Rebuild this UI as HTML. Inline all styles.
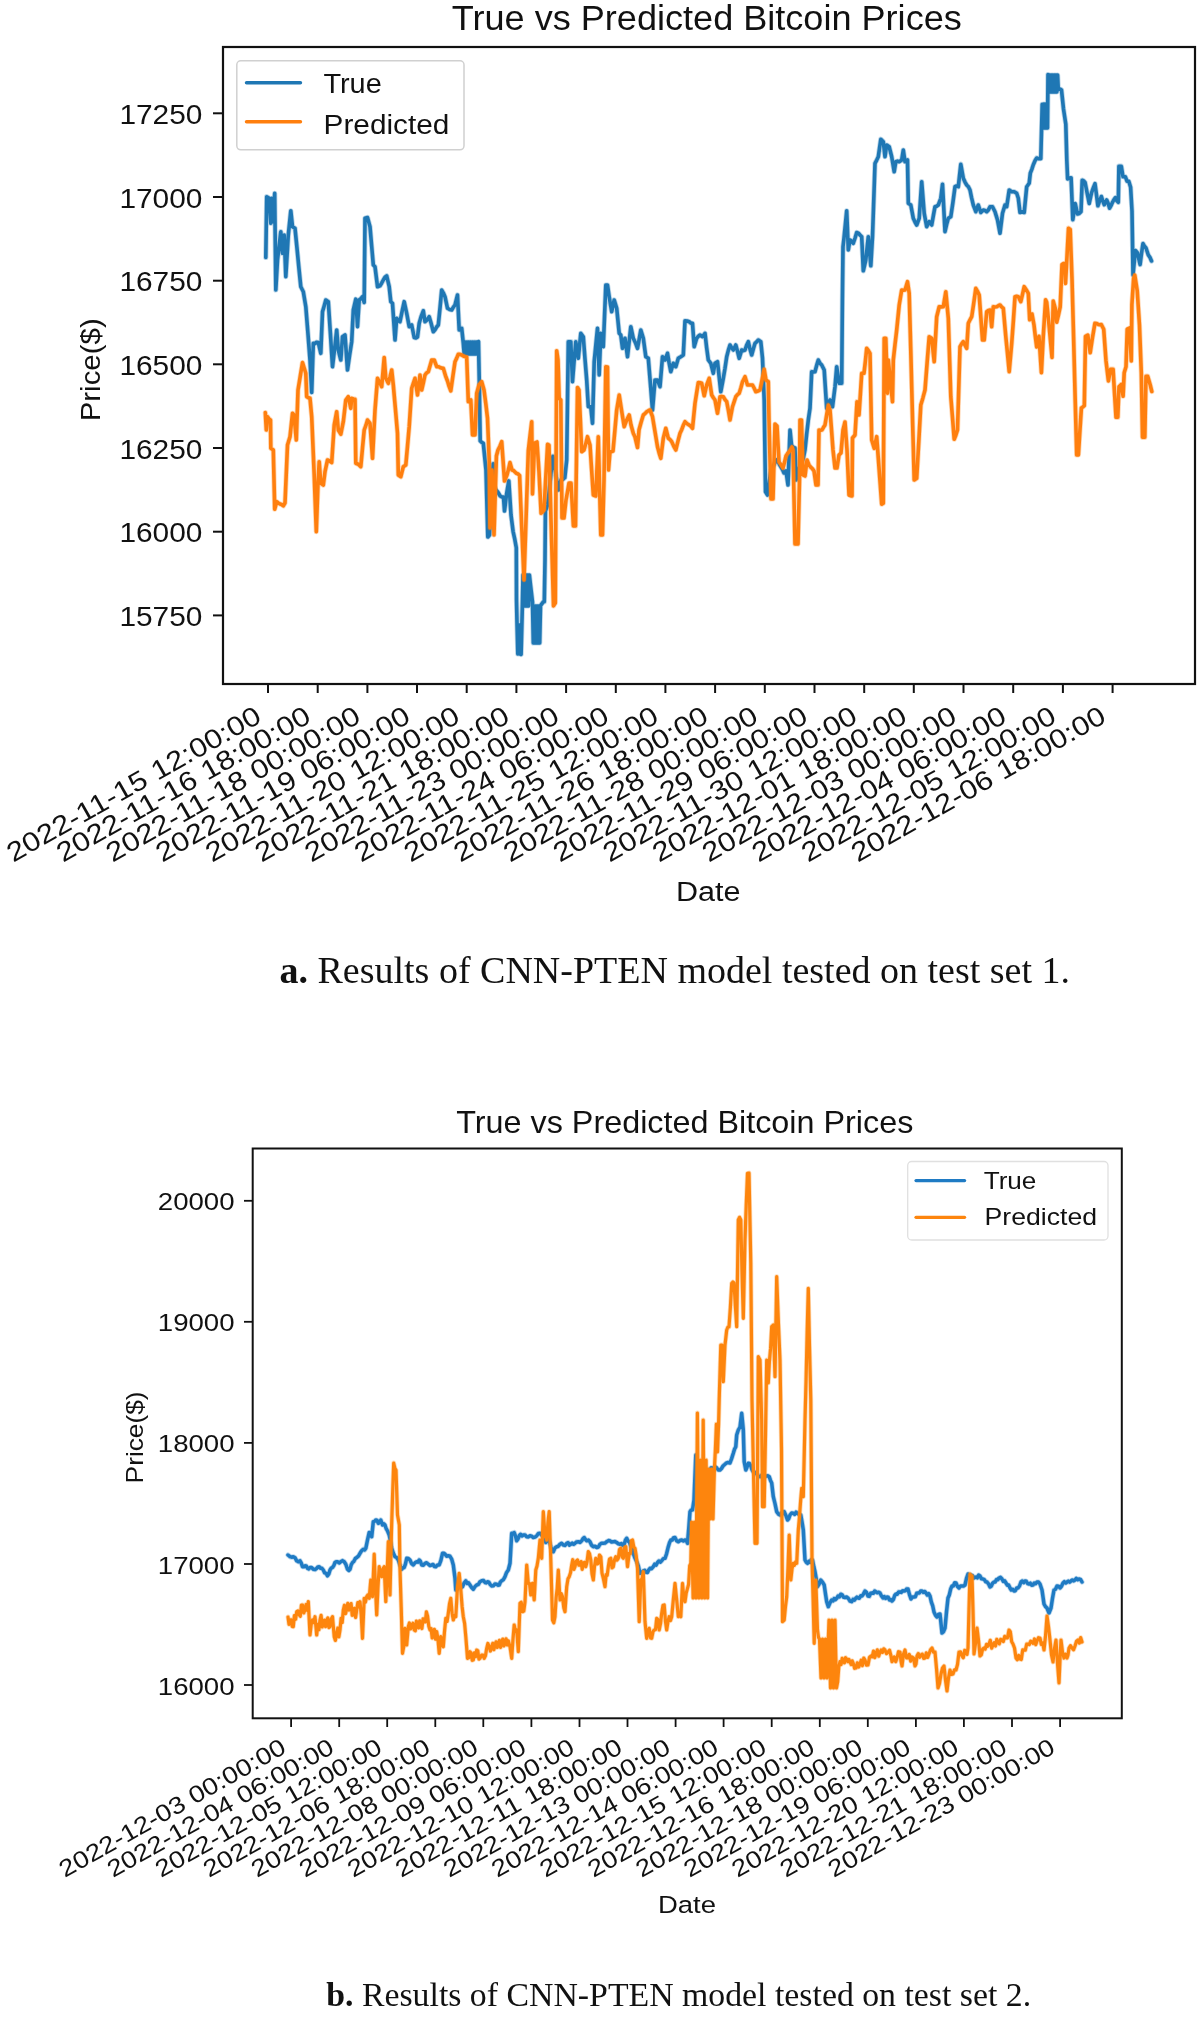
<!DOCTYPE html>
<html><head><meta charset="utf-8"><title>True vs Predicted Bitcoin Prices</title>
<style>
html,body{margin:0;padding:0;background:#fff;}
body{width:1200px;height:2043px;overflow:hidden;}
svg{display:block;will-change:transform;}
text{font-family:"Liberation Sans",sans-serif;fill:#111;}
.cap{font-family:"Liberation Serif",serif;}
</style></head><body>
<svg width="1200" height="2043" viewBox="0 0 1200 2043">
<rect x="0" y="0" width="1200" height="2043" fill="#fff"/>
<text x="706.8" y="30" font-size="35.5" text-anchor="middle" textLength="510" lengthAdjust="spacingAndGlyphs">True vs Predicted Bitcoin Prices</text>
<defs><polyline id="p1b" points="265.8,257.5 266.7,196.7 269.2,198.3 270.8,223.3 271.7,198.3 273.3,221.7 274.7,193.3 275.8,290.0 277.5,260.0 279.1,246.3 280.8,231.7 282.5,253.3 284.2,235.0 285.8,276.7 288.3,235.0 290.8,210.8 292.5,226.7 295.0,228.3 296.9,247.2 298.9,268.0 300.8,286.7 303.3,291.7 305.8,306.7 307.9,332.8 310.0,360.0 311.7,392.5 313.3,343.3 315.0,343.6 316.6,342.2 318.3,342.5 320.8,353.3 322.5,311.7 324.1,306.2 325.8,300.0 328.3,301.7 330.4,333.7 332.5,366.7 334.6,348.9 336.7,330.0 338.3,350.0 340.8,360.0 342.5,336.7 345.0,335.0 347.5,370.0 349.6,355.2 351.7,341.7 353.3,310.0 355.8,299.2 357.5,326.7 359.2,300.0 360.9,298.6 362.5,296.7 364.2,302.5 365.0,218.3 367.5,217.5 370.0,226.7 371.6,245.4 373.3,265.0 375.0,266.7 377.5,286.7 380.0,285.8 381.6,283.2 383.3,280.0 385.0,277.2 386.7,275.8 389.2,286.7 390.8,301.7 392.5,303.3 395.0,340.0 396.7,318.3 398.4,320.6 400.0,321.7 402.1,311.4 404.2,301.7 406.7,313.3 409.2,326.7 411.7,325.0 414.2,337.5 415.9,338.0 417.5,337.0 419.2,323.3 421.2,316.3 423.3,310.8 425.0,321.7 427.1,319.8 429.2,316.7 431.2,323.6 433.3,331.7 435.0,329.8 436.6,327.0 438.3,325.0 440.0,308.0 441.7,290.0 443.4,293.1 445.0,296.7 447.5,308.3 449.6,309.5 451.7,310.0 453.4,307.1 455.0,305.0 457.5,295.0 459.2,330.0 461.7,328.3 463.3,343.3 464.2,354.0 465.1,342.0 466.0,354.0 466.9,342.0 467.8,354.0 468.7,342.0 469.6,354.0 470.5,342.0 471.4,354.0 472.3,342.0 473.2,354.0 474.1,342.0 475.0,354.0 475.9,342.0 476.8,354.0 477.7,342.0 478.5,341.7 479.2,376.7 480.2,441.0 481.8,442.4 483.3,443.3 486.0,470.0 487.8,537.0 489.5,535.0 492.1,483.1 493.2,463.7 494.0,485.0 496.0,490.0 498.1,492.5 500.2,496.0 501.9,497.0 503.5,497.0 504.5,511.0 506.6,493.9 508.8,480.9 511.0,515.0 513.1,531.6 514.7,538.9 516.3,547.7 516.5,600.0 517.0,623.0 517.8,654.0 518.5,625.0 519.2,654.0 519.9,625.0 520.6,654.0 521.1,654.4 522.3,608.0 523.0,575.0 523.8,606.0 524.6,575.0 525.4,606.0 526.2,575.0 527.0,606.0 527.8,575.0 528.6,606.0 529.4,575.0 530.5,585.0 532.5,602.0 533.3,643.0 534.1,606.0 534.9,643.0 535.7,606.0 536.5,643.0 537.3,606.0 538.1,643.0 538.9,606.0 539.7,643.0 540.5,606.0 541.1,604.8 543.5,601.6 544.3,601.6 545.0,560.0 545.4,511.1 547.6,505.0 549.4,489.3 551.1,471.9 552.9,456.2 555.5,472.0 556.9,481.5 558.3,490.0 559.6,484.4 561.0,480.0 562.9,479.3 564.8,477.7 566.7,460.0 568.3,341.7 570.8,341.7 572.5,381.7 574.1,361.3 575.8,341.7 578.3,358.3 580.8,333.3 583.3,336.7 585.0,359.1 586.7,380.0 588.3,406.7 590.8,406.7 592.5,423.3 594.2,361.7 595.9,344.2 597.5,328.3 599.2,375.0 600.8,333.3 603.3,346.7 605.8,285.0 607.5,285.0 609.2,296.7 611.7,311.7 614.2,300.0 616.7,308.3 619.2,333.3 620.8,335.0 622.5,348.3 625.0,338.3 627.5,356.7 629.1,342.4 630.8,326.7 633.3,338.3 635.4,342.7 637.5,348.3 639.1,339.6 640.8,330.0 643.3,338.3 645.8,356.7 648.3,358.3 650.4,383.8 652.5,410.0 655.0,380.0 657.5,380.0 660.0,386.7 662.5,356.7 665.0,360.0 667.5,353.3 669.1,362.9 670.8,371.7 673.3,363.3 675.8,366.7 678.3,358.3 680.8,356.7 683.3,355.0 685.0,320.8 687.1,321.0 689.2,321.7 690.9,323.2 692.5,323.3 694.2,346.7 696.7,338.3 698.4,336.2 700.0,335.0 702.5,336.7 705.0,333.3 706.6,347.4 708.3,360.0 710.8,363.3 713.3,373.3 715.0,363.3 717.5,361.7 719.1,376.2 720.8,391.7 723.3,378.3 725.0,368.3 726.7,356.7 728.4,350.1 730.0,345.0 731.6,347.7 733.3,350.0 735.8,345.0 737.5,351.3 739.2,358.3 741.7,350.0 743.4,350.7 745.0,350.0 746.6,345.3 748.3,341.7 750.0,349.1 751.7,355.0 753.4,348.7 755.0,343.3 756.6,341.9 758.3,340.0 760.8,341.7 762.5,358.3 764.2,400.0 765.5,491.7 767.5,495.0 769.2,481.9 771.0,470.0 772.9,467.3 774.8,462.9 776.7,460.0 778.3,462.0 779.6,464.8 781.0,467.0 782.5,469.6 784.0,473.0 786.0,471.0 788.0,485.0 790.0,430.0 791.5,445.0 793.2,447.3 795.0,448.0 796.0,480.0 798.5,470.0 800.1,465.4 801.7,462.5 803.3,458.3 805.0,450.0 806.6,434.6 808.3,420.0 810.0,408.3 811.7,371.7 813.4,372.0 815.0,371.7 816.6,365.6 818.3,360.0 820.0,363.2 821.7,365.0 824.2,370.0 826.7,408.3 828.4,403.8 830.0,400.0 832.5,406.7 835.0,386.7 836.7,366.7 839.2,383.3 841.7,383.3 842.4,300.0 843.0,246.7 843.8,240.0 845.2,226.0 846.7,210.8 848.3,250.0 850.0,240.0 851.6,241.2 853.3,243.3 855.0,238.2 856.7,232.5 858.4,233.1 860.0,235.0 861.7,236.7 863.3,270.8 865.8,260.0 868.3,236.7 870.8,265.8 872.5,236.7 875.0,163.3 876.6,160.3 878.3,156.7 880.8,139.2 883.3,141.7 885.0,156.7 886.7,145.0 889.2,146.7 891.7,156.7 894.2,171.7 895.8,161.7 897.5,161.1 899.2,161.7 901.7,160.0 903.3,150.0 905.0,161.7 907.5,160.0 908.3,203.3 910.8,205.0 913.3,218.3 915.0,222.0 916.7,225.0 919.2,218.3 921.7,181.7 924.2,213.3 926.7,226.7 929.2,221.7 931.7,225.0 933.4,215.4 935.0,206.7 936.6,206.2 938.3,205.0 940.8,198.3 942.5,184.2 945.0,231.7 946.6,224.6 948.3,218.3 950.8,216.7 952.9,202.5 955.0,186.7 956.6,186.0 958.3,186.7 960.8,164.2 963.3,178.3 965.0,182.1 966.7,185.0 968.4,186.8 970.0,190.0 971.6,197.9 973.3,205.0 975.8,211.7 978.3,205.0 980.8,212.5 983.3,210.0 985.0,210.4 986.7,211.7 988.4,209.9 990.0,206.7 992.5,206.7 995.0,211.7 997.5,220.0 1000.0,233.3 1002.5,213.3 1005.0,205.0 1006.7,206.7 1009.2,190.0 1011.7,191.7 1014.2,191.7 1016.7,193.3 1018.3,198.3 1020.0,212.5 1022.1,211.9 1024.2,212.5 1026.7,186.7 1029.2,183.3 1030.3,173.2 1031.8,169.4 1033.2,165.0 1035.0,160.7 1036.7,158.0 1038.8,158.7 1040.8,158.6 1042.2,104.3 1043.0,128.0 1043.8,104.0 1044.6,128.0 1045.4,104.0 1046.2,128.0 1047.0,104.0 1047.5,128.0 1048.0,74.5 1048.8,92.0 1049.6,75.0 1050.4,92.0 1051.2,75.0 1052.0,92.0 1052.8,75.0 1053.6,92.0 1054.4,75.0 1055.2,92.0 1056.0,75.0 1056.8,92.0 1057.6,75.0 1058.3,89.5 1060.0,89.0 1061.5,90.0 1063.5,109.0 1065.8,124.2 1066.8,160.0 1067.6,179.0 1069.3,178.0 1071.1,177.8 1072.8,219.8 1075.2,203.5 1077.5,214.0 1079.2,213.5 1081.0,211.7 1082.2,180.2 1083.7,180.9 1085.1,182.5 1087.2,193.4 1089.2,203.5 1091.5,193.0 1093.2,188.1 1095.0,183.7 1096.5,195.0 1097.9,205.8 1099.7,200.6 1101.4,196.5 1102.8,201.0 1104.3,204.7 1106.7,200.0 1108.2,203.5 1109.6,208.2 1111.0,205.7 1112.5,202.3 1114.0,199.5 1115.4,197.7 1116.8,200.8 1118.3,202.3 1118.9,166.2 1121.3,166.2 1123.0,176.7 1125.3,176.7 1127.1,181.3 1128.8,181.3 1130.6,187.2 1132.0,211.0 1133.0,275.0 1135.4,250.5 1137.5,253.0 1140.1,264.6 1141.5,253.5 1143.0,243.5 1144.5,246.3 1146.0,248.0 1148.3,255.0 1149.9,257.3 1151.5,261.0"/></defs><g fill="none" stroke="#1f77b4" stroke-linejoin="round" stroke-linecap="round"><use href="#p1b" stroke-opacity="0.3" stroke-width="5.20"/><use href="#p1b" stroke-width="3.6"/></g>
<defs><polyline id="p1o" points="265.3,412.5 266.3,430.0 267.5,416.7 269.0,419.0 270.5,420.0 270.8,448.3 273.3,450.0 274.7,509.2 276.7,501.7 278.4,503.2 280.0,504.0 281.6,504.5 283.3,505.8 285.0,503.0 287.5,445.0 290.0,436.7 292.5,413.3 294.0,415.0 296.3,440.0 298.0,390.0 300.2,376.6 302.5,362.5 304.1,367.7 305.8,373.3 306.7,396.7 308.4,397.7 310.0,398.3 311.7,416.7 314.2,475.0 316.3,531.7 318.0,483.3 319.2,461.7 320.8,483.3 323.3,485.0 325.0,471.7 327.5,460.0 329.6,461.0 331.7,462.5 334.2,425.0 336.7,411.7 338.3,430.0 340.8,434.2 343.3,421.7 345.8,400.0 348.3,396.7 350.8,408.3 351.7,398.3 353.4,399.0 355.0,399.2 355.8,463.3 358.3,464.2 360.8,466.7 362.5,447.9 364.2,430.0 365.9,425.4 367.5,420.0 370.0,423.3 372.5,458.3 375.0,410.0 377.5,378.3 379.6,382.1 381.7,386.7 384.2,357.5 385.8,378.3 388.3,383.3 390.0,377.0 391.7,370.0 393.3,385.0 395.4,408.8 397.5,433.3 398.3,475.0 400.8,476.7 403.3,466.7 405.8,465.0 407.5,446.1 409.2,426.7 411.7,388.3 413.4,383.0 415.0,378.3 417.5,395.0 420.0,375.0 421.7,390.0 423.4,382.7 425.0,375.0 426.6,372.9 428.3,371.7 430.0,366.0 431.7,360.0 434.2,360.0 436.7,366.7 438.4,366.7 440.0,367.5 441.6,368.1 443.3,368.3 445.8,376.7 447.5,381.0 449.1,386.4 450.8,390.8 452.9,376.0 455.0,361.7 456.6,358.4 458.3,354.2 460.0,354.4 461.7,355.0 463.4,356.0 465.0,356.7 466.7,357.0 468.3,401.7 470.8,400.0 472.5,435.0 475.0,435.0 476.7,393.3 479.0,385.0 481.7,381.7 484.0,390.0 485.8,403.7 487.5,418.3 489.2,460.0 490.0,528.0 492.0,470.0 494.0,535.0 496.4,456.0 498.0,450.0 499.9,446.2 501.7,441.7 503.1,461.2 504.5,481.0 507.0,475.0 508.5,469.3 510.0,462.6 512.0,470.0 513.5,470.5 515.0,472.0 516.5,473.4 518.1,474.0 519.6,475.5 520.6,500.3 522.3,540.3 524.0,580.0 526.0,520.0 528.3,450.8 530.0,436.0 531.7,421.7 532.5,493.9 534.6,443.2 537.0,442.0 539.0,472.0 541.1,513.3 542.5,512.0 544.0,510.0 545.8,476.9 547.6,444.3 549.0,445.0 551.0,520.0 553.5,605.9 555.3,603.0 556.7,350.8 558.0,360.0 559.2,398.3 560.8,400.0 562.0,518.0 564.0,518.0 566.0,500.0 567.5,491.9 569.0,483.0 571.0,483.0 573.4,526.0 575.5,526.0 577.5,387.5 579.0,390.0 580.4,420.7 581.7,451.7 584.0,450.0 585.8,443.6 587.5,436.7 590.0,445.0 591.6,469.6 593.3,495.0 595.8,496.0 598.3,436.7 600.8,535.0 602.5,535.0 604.0,480.0 605.8,366.7 607.5,367.0 608.5,470.0 610.0,451.7 611.5,451.6 613.0,451.0 614.9,430.2 616.7,410.0 619.2,395.0 621.5,410.0 622.9,418.7 624.2,426.7 626.7,420.0 629.2,415.0 631.0,425.0 633.3,433.3 635.0,437.0 637.5,447.5 639.0,430.0 641.1,422.2 643.3,415.0 645.0,413.6 646.7,411.7 648.4,410.7 650.0,410.0 652.5,416.7 655.0,431.7 657.5,446.7 659.1,452.9 660.8,458.3 663.3,438.3 665.8,428.3 668.3,438.3 670.0,439.5 671.7,441.7 673.8,446.3 675.8,450.0 677.9,441.3 680.0,433.3 681.7,429.7 683.3,425.3 685.0,421.7 687.1,423.7 689.2,425.0 690.9,426.3 692.5,428.3 695.0,403.3 696.6,393.1 698.3,382.5 700.0,382.7 701.7,383.3 704.2,395.8 706.7,385.0 709.2,378.3 711.7,395.0 713.4,397.8 715.0,400.0 717.5,413.3 720.0,396.7 721.6,396.4 723.3,396.7 725.0,399.6 726.7,401.7 728.4,410.5 730.0,420.0 732.5,406.7 734.1,401.9 735.8,396.7 737.5,394.6 739.2,393.3 740.9,387.8 742.5,381.7 745.0,376.7 747.5,385.0 750.0,385.0 752.5,385.0 754.1,388.0 755.8,391.7 757.9,391.1 760.0,390.0 761.7,381.7 764.2,369.2 766.0,380.0 768.3,381.7 769.0,420.0 771.0,499.0 773.0,499.0 775.0,424.0 777.0,426.0 779.0,462.0 781.0,464.7 783.0,468.0 784.5,462.3 786.0,456.0 787.5,453.6 789.0,452.0 790.5,449.7 792.0,447.0 793.0,450.0 795.0,544.0 796.5,543.7 798.0,544.0 799.5,480.0 800.0,420.0 801.5,420.0 803.0,475.0 805.0,476.0 807.0,460.0 809.0,465.0 810.7,467.2 812.3,468.6 814.0,471.0 816.0,485.0 818.0,485.0 819.0,430.0 820.5,430.2 822.0,430.0 823.5,427.3 825.0,425.0 826.6,415.3 828.3,405.0 830.0,410.0 831.5,429.6 833.0,450.0 835.0,468.0 837.0,468.0 839.0,455.0 841.0,453.0 843.0,430.0 845.0,422.0 847.0,450.0 849.0,495.0 850.5,495.7 852.0,496.0 852.5,438.0 855.0,435.0 857.0,401.7 859.0,415.0 860.4,393.8 861.7,373.3 864.0,373.3 865.4,361.0 866.7,348.3 868.4,350.6 870.0,353.3 871.7,440.0 874.2,448.3 876.7,436.7 878.4,459.5 880.0,481.2 881.7,504.2 883.3,503.3 884.2,338.3 885.8,338.3 887.5,393.3 888.3,360.0 890.4,381.2 892.5,401.7 893.3,360.0 895.0,344.5 896.7,330.0 899.2,305.0 901.7,290.0 903.4,290.2 905.0,290.0 907.5,281.7 909.2,293.3 910.9,355.1 912.5,418.0 914.2,480.0 916.7,478.3 918.8,441.4 920.8,405.0 922.9,397.9 925.0,390.0 927.1,362.9 929.2,336.7 931.7,338.3 934.2,361.7 936.7,316.7 939.2,306.7 941.2,306.9 943.3,306.7 945.8,291.7 948.3,318.3 950.8,396.7 952.5,417.7 954.2,439.2 955.9,435.0 957.5,430.0 960.0,346.7 961.6,343.9 963.3,341.7 965.0,345.2 966.7,348.3 968.3,323.3 970.0,319.8 971.7,316.7 973.8,302.7 975.8,288.3 977.5,291.3 979.2,295.0 980.9,318.0 982.5,340.0 984.2,340.0 986.7,311.7 988.4,310.4 990.0,310.0 991.7,326.7 993.3,306.7 995.0,307.0 996.7,306.7 998.4,305.7 1000.0,305.0 1001.6,306.9 1003.3,308.3 1005.8,336.7 1007.5,353.8 1009.2,371.7 1011.7,343.3 1013.4,320.4 1015.0,296.7 1016.6,296.3 1018.3,296.7 1020.8,301.7 1022.5,294.4 1024.2,286.7 1026.2,289.7 1028.3,293.3 1029.7,319.8 1032.0,314.0 1034.0,325.0 1035.3,336.3 1036.7,346.9 1039.0,336.3 1041.4,372.7 1043.2,337.4 1045.6,299.9 1046.7,302.2 1049.1,325.7 1050.5,341.2 1052.0,357.4 1053.2,301.0 1055.5,309.3 1056.7,322.2 1058.5,314.8 1060.2,306.9 1062.0,264.6 1063.5,263.6 1064.9,263.5 1065.5,283.4 1067.0,256.3 1068.5,228.2 1070.2,229.4 1072.0,278.7 1073.6,337.2 1075.1,396.4 1076.7,454.9 1078.4,454.9 1079.9,430.9 1081.4,407.9 1082.8,407.0 1084.3,405.6 1085.5,336.3 1087.8,335.1 1090.2,352.7 1092.5,337.4 1094.9,323.4 1096.7,323.5 1098.4,324.5 1099.8,324.8 1101.3,324.5 1103.7,329.2 1106.0,360.9 1108.4,380.9 1110.7,369.2 1113.1,369.2 1114.5,392.9 1116.0,417.3 1117.8,417.3 1119.0,386.8 1121.3,384.4 1123.1,396.2 1124.2,372.7 1126.0,366.8 1127.2,329.2 1129.5,328.0 1131.3,361.0 1131.9,304.6 1133.6,278.7 1134.8,275.2 1137.2,290.5 1139.5,325.7 1141.3,372.7 1142.5,437.3 1144.8,437.3 1146.0,376.2 1147.7,376.2 1150.1,384.4 1151.8,391.5"/></defs><g fill="none" stroke="#ff7f0e" stroke-linejoin="round" stroke-linecap="round"><use href="#p1o" stroke-opacity="0.3" stroke-width="5.20"/><use href="#p1o" stroke-width="3.6"/></g>
<rect x="223" y="47" width="972" height="637" fill="none" stroke="#111" stroke-width="2.2"/>
<line x1="213" y1="113.3" x2="223" y2="113.3" stroke="#111" stroke-width="2"/>
<text x="202.4" y="124.0" font-size="27" text-anchor="end" textLength="83" lengthAdjust="spacingAndGlyphs">17250</text>
<line x1="213" y1="197.0" x2="223" y2="197.0" stroke="#111" stroke-width="2"/>
<text x="202.4" y="207.7" font-size="27" text-anchor="end" textLength="83" lengthAdjust="spacingAndGlyphs">17000</text>
<line x1="213" y1="280.7" x2="223" y2="280.7" stroke="#111" stroke-width="2"/>
<text x="202.4" y="291.4" font-size="27" text-anchor="end" textLength="83" lengthAdjust="spacingAndGlyphs">16750</text>
<line x1="213" y1="364.3" x2="223" y2="364.3" stroke="#111" stroke-width="2"/>
<text x="202.4" y="375.0" font-size="27" text-anchor="end" textLength="83" lengthAdjust="spacingAndGlyphs">16500</text>
<line x1="213" y1="448.0" x2="223" y2="448.0" stroke="#111" stroke-width="2"/>
<text x="202.4" y="458.7" font-size="27" text-anchor="end" textLength="83" lengthAdjust="spacingAndGlyphs">16250</text>
<line x1="213" y1="531.7" x2="223" y2="531.7" stroke="#111" stroke-width="2"/>
<text x="202.4" y="542.4" font-size="27" text-anchor="end" textLength="83" lengthAdjust="spacingAndGlyphs">16000</text>
<line x1="213" y1="615.4" x2="223" y2="615.4" stroke="#111" stroke-width="2"/>
<text x="202.4" y="626.1" font-size="27" text-anchor="end" textLength="83" lengthAdjust="spacingAndGlyphs">15750</text>
<text transform="translate(100,369.8) rotate(-90)" font-size="28" text-anchor="middle" textLength="103" lengthAdjust="spacingAndGlyphs">Price($)</text>
<line x1="268.0" y1="684" x2="268.0" y2="693" stroke="#111" stroke-width="2"/>
<text transform="translate(263.0,721.3) rotate(-29.5)" font-size="27" text-anchor="end" textLength="287" lengthAdjust="spacingAndGlyphs">2022-11-15 12:00:00</text>
<line x1="317.7" y1="684" x2="317.7" y2="693" stroke="#111" stroke-width="2"/>
<text transform="translate(312.7,721.3) rotate(-29.5)" font-size="27" text-anchor="end" textLength="287" lengthAdjust="spacingAndGlyphs">2022-11-16 18:00:00</text>
<line x1="367.4" y1="684" x2="367.4" y2="693" stroke="#111" stroke-width="2"/>
<text transform="translate(362.4,721.3) rotate(-29.5)" font-size="27" text-anchor="end" textLength="287" lengthAdjust="spacingAndGlyphs">2022-11-18 00:00:00</text>
<line x1="417.0" y1="684" x2="417.0" y2="693" stroke="#111" stroke-width="2"/>
<text transform="translate(412.0,721.3) rotate(-29.5)" font-size="27" text-anchor="end" textLength="287" lengthAdjust="spacingAndGlyphs">2022-11-19 06:00:00</text>
<line x1="466.7" y1="684" x2="466.7" y2="693" stroke="#111" stroke-width="2"/>
<text transform="translate(461.7,721.3) rotate(-29.5)" font-size="27" text-anchor="end" textLength="287" lengthAdjust="spacingAndGlyphs">2022-11-20 12:00:00</text>
<line x1="516.4" y1="684" x2="516.4" y2="693" stroke="#111" stroke-width="2"/>
<text transform="translate(511.4,721.3) rotate(-29.5)" font-size="27" text-anchor="end" textLength="287" lengthAdjust="spacingAndGlyphs">2022-11-21 18:00:00</text>
<line x1="566.1" y1="684" x2="566.1" y2="693" stroke="#111" stroke-width="2"/>
<text transform="translate(561.1,721.3) rotate(-29.5)" font-size="27" text-anchor="end" textLength="287" lengthAdjust="spacingAndGlyphs">2022-11-23 00:00:00</text>
<line x1="615.8" y1="684" x2="615.8" y2="693" stroke="#111" stroke-width="2"/>
<text transform="translate(610.8,721.3) rotate(-29.5)" font-size="27" text-anchor="end" textLength="287" lengthAdjust="spacingAndGlyphs">2022-11-24 06:00:00</text>
<line x1="665.4" y1="684" x2="665.4" y2="693" stroke="#111" stroke-width="2"/>
<text transform="translate(660.4,721.3) rotate(-29.5)" font-size="27" text-anchor="end" textLength="287" lengthAdjust="spacingAndGlyphs">2022-11-25 12:00:00</text>
<line x1="715.1" y1="684" x2="715.1" y2="693" stroke="#111" stroke-width="2"/>
<text transform="translate(710.1,721.3) rotate(-29.5)" font-size="27" text-anchor="end" textLength="287" lengthAdjust="spacingAndGlyphs">2022-11-26 18:00:00</text>
<line x1="764.8" y1="684" x2="764.8" y2="693" stroke="#111" stroke-width="2"/>
<text transform="translate(759.8,721.3) rotate(-29.5)" font-size="27" text-anchor="end" textLength="287" lengthAdjust="spacingAndGlyphs">2022-11-28 00:00:00</text>
<line x1="814.5" y1="684" x2="814.5" y2="693" stroke="#111" stroke-width="2"/>
<text transform="translate(809.5,721.3) rotate(-29.5)" font-size="27" text-anchor="end" textLength="287" lengthAdjust="spacingAndGlyphs">2022-11-29 06:00:00</text>
<line x1="864.2" y1="684" x2="864.2" y2="693" stroke="#111" stroke-width="2"/>
<text transform="translate(859.2,721.3) rotate(-29.5)" font-size="27" text-anchor="end" textLength="287" lengthAdjust="spacingAndGlyphs">2022-11-30 12:00:00</text>
<line x1="913.8" y1="684" x2="913.8" y2="693" stroke="#111" stroke-width="2"/>
<text transform="translate(908.8,721.3) rotate(-29.5)" font-size="27" text-anchor="end" textLength="287" lengthAdjust="spacingAndGlyphs">2022-12-01 18:00:00</text>
<line x1="963.5" y1="684" x2="963.5" y2="693" stroke="#111" stroke-width="2"/>
<text transform="translate(958.5,721.3) rotate(-29.5)" font-size="27" text-anchor="end" textLength="287" lengthAdjust="spacingAndGlyphs">2022-12-03 00:00:00</text>
<line x1="1013.2" y1="684" x2="1013.2" y2="693" stroke="#111" stroke-width="2"/>
<text transform="translate(1008.2,721.3) rotate(-29.5)" font-size="27" text-anchor="end" textLength="287" lengthAdjust="spacingAndGlyphs">2022-12-04 06:00:00</text>
<line x1="1062.9" y1="684" x2="1062.9" y2="693" stroke="#111" stroke-width="2"/>
<text transform="translate(1057.9,721.3) rotate(-29.5)" font-size="27" text-anchor="end" textLength="287" lengthAdjust="spacingAndGlyphs">2022-12-05 12:00:00</text>
<line x1="1112.6" y1="684" x2="1112.6" y2="693" stroke="#111" stroke-width="2"/>
<text transform="translate(1107.6,721.3) rotate(-29.5)" font-size="27" text-anchor="end" textLength="287" lengthAdjust="spacingAndGlyphs">2022-12-06 18:00:00</text>
<text x="708.3" y="901.2" font-size="27" text-anchor="middle" textLength="64.5" lengthAdjust="spacingAndGlyphs">Date</text>
<rect x="236.8" y="60.8" width="227.2" height="89" rx="4" ry="4" fill="#fff" fill-opacity="0.8" stroke="#d0d0d0" stroke-width="1.5"/>
<line x1="246.5" y1="82.7" x2="300.5" y2="82.7" stroke="#1f77b4" stroke-width="3.4" stroke-linecap="round"/>
<line x1="246.5" y1="121.8" x2="300.5" y2="121.8" stroke="#ff7f0e" stroke-width="3.4" stroke-linecap="round"/>
<text x="323.4" y="92.5" font-size="27.5" textLength="58.3" lengthAdjust="spacingAndGlyphs">True</text>
<text x="323.6" y="133.5" font-size="27.5" textLength="125.8" lengthAdjust="spacingAndGlyphs">Predicted</text>
<text class="cap" x="279.5" y="983" font-size="37.7" textLength="790.5" lengthAdjust="spacingAndGlyphs"><tspan font-weight="bold">a.</tspan> Results of CNN-PTEN model tested on test set 1.</text>
<text x="684.8" y="1133.2" font-size="31.5" text-anchor="middle" textLength="457" lengthAdjust="spacingAndGlyphs">True vs Predicted Bitcoin Prices</text>
<defs><polyline id="p2b" points="288.0,1555.0 290.0,1556.7 291.6,1557.2 293.3,1556.7 295.0,1557.7 296.7,1560.8 298.4,1561.8 300.0,1560.8 301.2,1562.9 302.5,1566.7 303.8,1566.8 305.0,1565.8 306.2,1565.9 307.5,1568.3 308.8,1569.0 310.0,1567.5 311.6,1567.5 313.3,1569.2 315.0,1569.6 316.7,1568.3 317.9,1566.9 319.2,1566.7 320.6,1568.2 321.9,1568.2 323.3,1570.0 324.7,1572.9 326.1,1573.4 327.5,1575.8 328.8,1574.0 330.0,1570.0 331.2,1568.1 332.5,1567.5 333.8,1565.6 335.0,1562.5 336.2,1561.7 337.5,1561.7 339.1,1563.0 340.8,1561.7 342.5,1560.6 344.2,1561.7 345.8,1564.2 347.5,1569.2 348.8,1570.4 350.0,1569.2 351.2,1564.9 352.5,1562.5 353.9,1561.3 355.3,1558.5 356.7,1557.5 358.4,1556.2 360.0,1553.3 361.6,1550.8 363.3,1549.2 364.6,1550.0 365.8,1548.3 367.5,1540.0 369.2,1532.5 370.4,1533.9 371.7,1536.7 373.3,1521.7 374.6,1521.4 375.8,1520.0 377.1,1520.5 378.3,1523.3 379.6,1522.2 380.8,1520.0 382.5,1525.0 383.8,1523.8 385.0,1525.0 386.2,1528.7 387.5,1530.8 389.2,1535.0 390.4,1540.8 391.7,1548.3 393.4,1553.2 395.0,1556.7 396.6,1557.5 398.3,1560.0 400.0,1565.2 401.7,1569.2 402.9,1567.9 404.2,1567.5 405.4,1564.1 406.7,1558.3 408.4,1558.5 410.0,1560.0 411.6,1563.6 413.3,1565.0 415.0,1562.8 416.7,1561.7 417.9,1562.1 419.2,1560.0 420.4,1561.3 421.7,1565.0 423.4,1565.2 425.0,1563.3 426.6,1562.7 428.3,1564.2 430.0,1565.5 431.7,1565.0 433.1,1564.5 434.4,1566.6 435.8,1566.7 437.5,1565.0 439.2,1565.0 440.9,1560.3 442.5,1553.3 443.8,1553.2 445.0,1554.2 446.6,1556.2 448.3,1555.8 450.0,1556.3 451.7,1559.2 453.3,1565.0 455.0,1578.3 455.8,1590.0 457.1,1589.1 458.3,1586.7 459.7,1586.0 461.1,1587.5 462.5,1586.7 464.1,1583.0 465.8,1580.8 467.2,1583.5 468.6,1582.9 470.0,1585.0 471.6,1587.5 473.3,1589.2 475.0,1586.6 476.7,1585.0 478.4,1584.4 480.0,1581.7 481.7,1580.8 483.4,1580.4 485.0,1582.5 486.2,1582.9 487.5,1581.7 488.8,1582.1 490.0,1584.2 491.6,1585.9 493.3,1585.8 495.0,1583.9 496.7,1584.2 497.9,1585.2 499.2,1585.0 500.4,1582.0 501.7,1580.8 503.4,1579.6 505.0,1576.7 506.6,1572.4 508.3,1570.0 510.0,1563.3 511.7,1533.3 513.0,1533.5 514.2,1532.5 515.5,1536.1 516.7,1540.8 518.0,1539.0 519.2,1535.8 520.6,1534.3 521.9,1536.0 523.3,1535.0 525.0,1534.9 526.7,1536.7 528.4,1536.9 530.0,1535.8 531.6,1536.2 533.3,1537.5 535.0,1537.1 536.7,1535.8 538.4,1533.4 540.0,1533.3 541.6,1535.2 543.3,1535.0 544.5,1538.0 545.8,1542.5 547.0,1541.4 548.3,1538.3 549.5,1541.5 550.8,1546.7 552.0,1550.4 553.3,1551.7 555.0,1547.9 556.7,1546.7 558.4,1546.2 560.0,1544.2 561.6,1543.3 563.3,1545.0 565.0,1545.4 566.7,1543.3 568.1,1542.7 569.4,1545.1 570.8,1544.2 572.2,1543.1 573.6,1544.3 575.0,1543.3 576.6,1541.9 578.3,1541.7 580.0,1542.4 581.7,1540.8 583.0,1538.6 584.2,1537.5 585.5,1539.6 586.7,1540.8 588.4,1540.1 590.0,1541.7 591.6,1545.3 593.3,1546.7 595.0,1546.3 596.7,1547.5 598.4,1547.0 600.0,1544.2 601.6,1543.3 603.3,1543.3 605.0,1543.1 606.7,1541.7 608.4,1540.6 610.0,1540.8 611.6,1542.0 613.3,1541.7 615.0,1541.6 616.7,1542.5 618.4,1543.8 620.0,1544.2 621.4,1543.5 622.8,1545.4 624.2,1544.2 625.5,1540.0 626.7,1538.3 628.0,1541.1 629.2,1541.7 631.0,1546.7 632.1,1549.2 633.3,1553.3 635.0,1558.1 636.7,1561.7 638.4,1566.2 640.0,1573.3 641.6,1572.9 643.3,1570.8 644.7,1570.3 646.1,1572.3 647.5,1572.5 648.8,1569.8 650.0,1568.3 651.6,1568.7 653.3,1566.7 654.7,1564.2 656.1,1565.1 657.5,1562.5 658.9,1561.0 660.3,1562.1 661.7,1560.8 663.4,1558.6 665.0,1558.3 666.6,1553.7 668.3,1546.7 669.5,1542.7 670.8,1540.0 672.2,1540.0 673.6,1537.7 675.0,1537.5 676.6,1540.7 678.3,1541.7 680.0,1540.5 681.7,1540.0 683.4,1541.0 685.0,1540.0 686.2,1540.4 687.5,1543.3 688.8,1527.9 690.0,1511.7 691.2,1509.9 692.5,1510.0 694.0,1500.0 695.8,1455.0 697.5,1490.0 698.8,1487.5 700.0,1483.0 701.2,1479.3 702.5,1478.0 703.8,1477.4 705.0,1475.0 706.2,1472.9 707.5,1472.0 708.8,1471.8 710.0,1470.0 711.2,1467.7 712.5,1468.0 713.8,1468.6 715.0,1466.7 716.6,1467.8 718.3,1470.0 720.0,1470.0 721.5,1468.5 723.0,1466.0 725.0,1464.2 726.5,1462.9 728.0,1462.5 730.0,1463.0 731.6,1458.6 733.3,1453.3 734.5,1449.2 735.8,1446.7 736.7,1435.0 738.3,1430.0 740.0,1427.0 741.7,1413.3 743.3,1430.0 744.2,1461.7 745.8,1470.0 747.0,1467.2 748.3,1463.3 749.5,1463.5 750.8,1466.0 752.0,1469.8 753.3,1471.7 755.0,1472.3 756.7,1474.0 758.4,1476.2 760.0,1476.7 761.6,1475.2 763.3,1475.0 765.0,1476.3 766.7,1476.0 768.0,1475.8 769.2,1476.7 770.5,1480.4 771.7,1483.0 773.3,1496.7 775.0,1503.6 776.7,1511.7 778.4,1514.1 780.0,1515.0 781.4,1512.9 782.8,1513.7 784.2,1511.7 785.9,1515.4 787.5,1520.0 788.8,1518.5 790.0,1515.0 791.6,1513.0 793.3,1513.3 794.7,1514.4 796.1,1512.2 797.5,1513.3 799.1,1514.5 800.8,1515.0 802.0,1521.7 803.3,1530.0 805.0,1560.0 806.2,1562.1 807.5,1563.3 808.8,1561.4 810.0,1562.2 811.2,1559.8 812.5,1560.0 813.8,1566.5 815.0,1571.7 816.2,1578.2 817.5,1586.7 819.1,1584.0 820.8,1580.0 822.5,1582.1 824.2,1585.0 825.5,1594.1 826.7,1601.7 828.3,1606.7 830.0,1602.7 831.7,1600.0 833.0,1600.8 834.2,1598.5 835.5,1599.6 836.7,1598.3 838.1,1596.0 839.4,1596.8 840.8,1594.2 842.2,1594.8 843.6,1597.3 845.0,1597.5 846.6,1597.0 848.3,1598.3 850.0,1601.1 851.7,1601.7 853.1,1599.3 854.4,1600.1 855.8,1598.3 856.9,1597.1 858.0,1598.0 859.3,1598.2 860.7,1595.8 862.0,1596.0 863.5,1593.9 865.0,1591.0 866.5,1592.4 868.0,1596.0 869.3,1596.3 870.7,1593.3 872.0,1593.0 873.3,1593.3 874.7,1591.0 876.0,1592.0 877.3,1592.8 878.7,1592.2 880.0,1593.0 881.5,1596.0 883.0,1598.0 884.3,1596.5 885.7,1598.4 887.0,1597.0 888.2,1597.2 889.5,1600.0 890.8,1599.6 892.0,1601.0 893.3,1599.6 894.7,1595.5 896.0,1594.0 897.3,1594.2 898.7,1591.9 900.0,1592.0 901.3,1592.4 902.7,1590.7 904.0,1591.0 905.3,1590.8 906.7,1588.9 908.0,1589.0 909.5,1594.6 911.0,1599.0 912.5,1597.0 914.0,1597.0 915.3,1596.8 916.7,1593.3 918.0,1593.0 919.3,1593.1 920.7,1591.1 922.0,1591.0 923.3,1592.4 924.7,1591.5 926.0,1593.0 927.3,1595.0 928.7,1593.7 930.0,1596.0 931.3,1601.8 932.7,1605.8 934.0,1612.0 935.5,1615.3 937.0,1617.0 938.5,1614.5 940.0,1614.0 942.0,1633.0 943.5,1631.7 945.0,1628.0 946.5,1611.9 948.0,1598.0 949.3,1595.0 950.7,1588.9 952.0,1586.0 953.3,1586.0 954.7,1582.8 956.0,1583.0 957.5,1586.5 959.0,1588.0 960.5,1586.0 962.0,1586.0 963.5,1586.1 965.0,1585.0 966.5,1578.3 968.0,1574.0 969.5,1575.2 971.0,1575.0 972.5,1575.6 974.0,1578.0 976.0,1577.0 977.3,1577.8 978.7,1575.1 980.0,1576.0 981.5,1578.8 983.0,1579.0 984.3,1579.6 985.7,1581.7 987.0,1582.0 988.5,1583.8 990.0,1587.0 991.3,1586.1 992.7,1583.1 994.0,1582.0 995.2,1581.9 996.5,1579.5 997.8,1579.7 999.0,1578.0 1000.5,1577.3 1002.0,1579.0 1003.3,1581.4 1004.7,1580.9 1006.0,1583.0 1007.3,1585.2 1008.7,1585.1 1010.0,1588.0 1011.3,1590.0 1012.7,1589.4 1014.0,1591.0 1015.3,1590.7 1016.7,1588.0 1018.0,1588.0 1019.5,1586.0 1021.0,1582.0 1022.3,1581.0 1023.7,1582.6 1025.0,1581.0 1026.3,1581.3 1027.7,1583.6 1029.0,1584.0 1030.3,1583.2 1031.7,1585.2 1033.0,1585.0 1034.3,1583.0 1035.7,1583.6 1037.0,1582.0 1038.5,1582.1 1040.0,1584.0 1042.0,1590.0 1044.0,1604.0 1045.5,1606.6 1047.0,1608.0 1049.0,1613.0 1051.0,1608.0 1052.5,1598.3 1054.0,1590.0 1055.5,1589.2 1057.0,1586.0 1058.5,1586.2 1060.0,1588.0 1061.5,1586.3 1063.0,1583.0 1064.3,1581.7 1065.7,1583.0 1067.0,1582.0 1068.3,1581.1 1069.7,1582.1 1071.0,1581.0 1072.3,1580.0 1073.7,1580.9 1075.0,1580.0 1076.3,1578.4 1077.7,1579.8 1079.0,1579.0 1080.5,1579.4 1082.0,1582.0"/></defs><g fill="none" stroke="#1f7bc4" stroke-linejoin="round" stroke-linecap="round"><use href="#p2b" stroke-opacity="0.3" stroke-width="5.10"/><use href="#p2b" stroke-width="3.5"/></g>
<defs><polyline id="p2o" points="288.0,1617.0 289.0,1624.3 290.0,1620.0 291.1,1619.8 292.2,1626.4 293.3,1626.7 294.4,1615.7 295.6,1619.3 296.7,1611.7 297.9,1611.0 299.2,1615.0 300.3,1616.2 301.4,1605.1 302.5,1605.0 303.8,1613.0 305.0,1610.0 306.1,1604.5 307.2,1610.3 308.3,1601.7 310.0,1635.0 311.2,1624.4 312.5,1620.0 313.8,1622.7 315.0,1616.7 316.7,1635.0 317.8,1624.3 318.9,1629.7 320.0,1620.0 321.1,1615.4 322.2,1627.0 323.3,1623.3 324.4,1620.2 325.6,1626.6 326.7,1620.0 327.8,1618.0 328.9,1627.6 330.0,1626.7 331.2,1619.1 332.5,1616.7 334.2,1636.7 335.4,1640.4 336.7,1633.3 337.8,1628.0 338.9,1636.8 340.0,1630.0 341.1,1618.3 342.2,1622.5 343.3,1610.0 344.4,1605.3 345.6,1613.6 346.7,1608.3 347.8,1603.4 348.9,1610.1 350.0,1606.7 351.1,1603.6 352.2,1615.3 353.3,1615.0 354.4,1608.3 355.6,1617.5 356.7,1610.0 357.8,1602.7 358.9,1606.9 360.0,1601.7 361.2,1614.7 362.5,1638.3 364.2,1598.3 365.4,1602.1 366.7,1596.7 367.9,1594.9 369.2,1598.3 370.8,1580.0 372.5,1596.7 374.2,1554.2 375.4,1585.6 376.7,1615.0 377.9,1588.8 379.2,1566.7 380.4,1572.7 381.7,1576.7 382.9,1568.9 384.2,1566.7 385.8,1601.7 387.1,1573.7 388.3,1541.7 390.0,1595.0 391.5,1530.0 392.6,1494.5 393.7,1463.0 394.9,1468.3 396.0,1470.0 397.5,1515.0 399.3,1525.0 400.0,1570.0 401.2,1607.1 402.5,1653.3 403.8,1646.4 405.0,1628.3 406.7,1645.0 408.3,1626.7 409.4,1623.0 410.6,1628.9 411.7,1625.0 412.9,1623.3 414.2,1630.0 415.3,1630.8 416.4,1621.2 417.5,1623.3 418.6,1627.9 419.7,1620.8 420.8,1625.0 421.9,1628.5 423.1,1618.8 424.2,1621.7 425.3,1621.9 426.4,1611.8 427.5,1615.8 428.8,1626.2 430.0,1630.0 431.1,1628.6 432.2,1638.0 433.3,1636.7 434.4,1629.3 435.6,1639.2 436.7,1631.7 437.9,1638.5 439.2,1653.3 440.8,1636.7 442.1,1645.2 443.3,1646.7 444.6,1630.3 445.8,1618.3 447.1,1621.4 448.3,1613.3 449.6,1603.3 450.8,1598.3 452.1,1613.2 453.3,1620.0 454.6,1615.1 455.8,1616.7 457.5,1586.7 459.2,1573.3 460.8,1590.0 462.1,1606.5 463.3,1616.7 464.6,1623.4 465.8,1636.7 467.5,1658.3 468.8,1657.6 470.0,1651.7 471.1,1653.0 472.2,1660.3 473.3,1660.0 474.4,1652.8 475.6,1656.7 476.7,1650.0 477.8,1650.8 478.9,1659.1 480.0,1658.3 481.7,1655.0 482.9,1655.1 484.2,1658.3 485.4,1655.9 486.7,1648.3 487.9,1643.5 489.2,1646.7 490.4,1651.0 491.7,1646.7 492.8,1643.3 493.9,1649.6 495.0,1645.0 496.1,1641.8 497.2,1647.5 498.3,1644.2 499.4,1640.4 500.6,1647.5 501.7,1642.5 502.8,1639.1 503.9,1645.9 505.0,1643.3 506.1,1638.8 507.2,1645.0 508.3,1640.8 510.0,1646.7 511.7,1658.3 513.0,1639.2 514.2,1625.0 515.5,1631.3 516.7,1630.0 518.3,1651.7 520.0,1603.3 521.2,1602.3 522.5,1611.7 523.8,1611.1 525.0,1601.7 526.7,1565.0 528.3,1583.3 529.5,1583.4 530.8,1595.0 532.5,1583.3 534.2,1600.0 535.8,1570.0 537.0,1566.0 538.3,1558.3 540.0,1540.0 541.7,1558.3 543.3,1511.7 545.0,1535.0 546.7,1540.0 548.0,1521.9 549.2,1511.7 550.8,1560.0 552.5,1620.0 553.8,1622.8 555.0,1616.7 556.1,1597.9 557.2,1588.1 558.3,1570.0 560.0,1600.0 561.2,1593.6 562.5,1596.7 563.8,1607.8 565.0,1611.7 566.7,1586.7 568.0,1578.8 569.2,1576.7 570.5,1572.8 571.7,1565.0 572.8,1559.7 573.9,1569.4 575.0,1566.7 576.2,1561.1 577.5,1560.0 578.8,1565.2 580.0,1565.0 581.1,1561.6 582.2,1569.3 583.3,1563.3 584.5,1562.4 585.8,1566.7 587.0,1562.2 588.3,1551.7 589.5,1553.6 590.8,1560.0 592.0,1573.8 593.3,1580.0 594.5,1566.5 595.8,1558.3 597.0,1564.0 598.3,1563.3 599.5,1555.1 600.8,1556.7 602.0,1573.2 603.3,1578.3 605.0,1586.7 606.1,1574.7 607.2,1575.3 608.3,1566.7 609.5,1559.1 610.8,1558.3 612.0,1567.9 613.3,1566.7 614.5,1559.8 615.8,1556.7 617.0,1560.2 618.3,1558.3 619.5,1549.4 620.8,1548.3 622.0,1556.7 623.3,1558.3 624.5,1547.5 625.8,1546.7 627.5,1566.7 629.2,1553.3 630.3,1553.7 631.4,1540.7 632.5,1540.0 633.8,1547.0 635.0,1548.3 636.2,1555.5 637.5,1568.3 639.2,1621.7 640.8,1580.0 642.0,1578.8 643.3,1571.7 645.0,1621.7 646.7,1638.3 648.0,1631.2 649.2,1628.3 650.5,1637.9 651.7,1638.3 653.0,1631.7 654.2,1630.0 655.5,1629.7 656.7,1618.3 658.0,1619.6 659.2,1630.0 660.5,1623.7 661.7,1613.3 663.0,1605.3 664.2,1605.0 665.5,1621.8 666.7,1630.0 668.0,1621.4 669.2,1616.7 670.5,1620.5 671.7,1616.7 673.3,1600.0 675.0,1583.3 676.7,1600.0 678.3,1616.7 679.5,1614.8 680.8,1616.7 682.5,1583.3 683.8,1597.5 685.0,1601.7 686.2,1593.2 687.5,1588.3 688.6,1584.4 689.7,1565.7 690.8,1563.3 691.6,1522.0 693.1,1598.0 694.5,1522.0 696.0,1598.0 697.4,1413.0 698.9,1598.0 700.3,1460.0 701.8,1598.0 703.2,1420.0 704.7,1598.0 706.1,1460.0 707.6,1598.0 708.6,1469.0 710.1,1519.0 711.5,1469.0 713.0,1519.0 714.4,1469.0 715.4,1449.2 716.4,1424.0 717.5,1452.0 718.6,1424.0 719.2,1400.0 720.8,1345.0 722.0,1345.0 723.3,1381.7 725.0,1345.0 726.7,1330.0 727.9,1327.1 729.0,1327.0 730.4,1307.2 731.7,1283.3 732.9,1282.0 734.0,1283.0 735.4,1306.5 736.7,1326.7 738.3,1220.0 739.5,1217.3 740.8,1220.0 742.0,1271.8 743.3,1318.3 745.0,1240.0 746.2,1205.7 747.5,1173.3 749.0,1173.0 750.8,1263.3 752.0,1400.0 753.5,1473.3 755.0,1543.3 756.0,1541.1 757.0,1543.3 758.3,1356.7 760.0,1360.0 761.7,1420.0 762.5,1506.7 764.2,1506.7 765.5,1434.6 766.7,1360.0 768.3,1383.0 769.4,1361.6 770.6,1348.2 771.7,1326.7 773.3,1325.0 775.0,1376.7 776.7,1276.7 778.3,1320.0 780.0,1360.0 781.5,1450.0 782.5,1621.7 784.2,1620.0 785.5,1606.3 786.7,1596.7 788.0,1567.5 789.2,1535.0 790.8,1580.0 792.0,1569.0 793.3,1563.3 794.4,1565.3 795.6,1562.0 796.7,1563.3 798.3,1530.0 799.4,1517.6 800.6,1501.0 801.7,1488.3 803.3,1496.7 805.0,1420.0 806.1,1378.8 807.2,1330.2 808.3,1288.3 809.5,1346.5 810.8,1400.0 812.0,1560.0 813.1,1599.0 814.2,1643.3 815.8,1580.0 817.5,1630.0 818.5,1637.4 819.5,1639.0 821.0,1678.0 822.5,1639.0 824.0,1678.0 825.5,1639.0 827.0,1678.0 828.0,1647.7 829.0,1620.0 830.5,1688.0 832.0,1620.0 833.5,1688.0 835.0,1620.0 836.5,1688.0 837.7,1681.6 838.8,1666.8 840.0,1661.7 841.1,1664.5 842.2,1658.3 843.3,1660.0 844.4,1662.8 845.6,1657.7 846.7,1659.2 847.8,1661.7 848.9,1659.5 850.0,1661.7 851.1,1664.5 852.2,1660.9 853.3,1663.3 854.6,1668.3 856.0,1668.0 857.3,1662.8 858.7,1667.0 860.0,1664.0 861.2,1660.2 862.5,1665.6 863.8,1658.1 865.0,1660.0 866.5,1665.2 868.0,1665.0 869.5,1657.2 871.0,1656.0 872.2,1656.8 873.5,1651.1 874.8,1657.6 876.0,1654.0 877.3,1649.9 878.7,1656.2 880.0,1652.0 881.2,1650.0 882.5,1652.4 883.8,1648.8 885.0,1650.0 886.5,1653.6 888.0,1652.0 889.5,1650.2 891.0,1656.0 892.0,1661.7 893.0,1660.0 894.3,1657.0 895.7,1661.6 897.0,1658.0 898.5,1651.7 900.0,1652.0 901.0,1661.1 902.0,1666.0 903.5,1654.1 905.0,1650.0 906.5,1657.8 908.0,1658.0 909.3,1654.4 910.7,1661.1 912.0,1657.0 913.5,1658.1 915.0,1666.0 916.0,1664.0 917.0,1656.0 918.3,1653.6 919.7,1657.3 921.0,1655.0 922.3,1654.1 923.7,1658.4 925.0,1658.0 926.3,1652.9 927.7,1657.4 929.0,1654.0 930.5,1649.7 932.0,1648.0 933.5,1652.1 935.0,1652.0 936.5,1668.5 938.0,1688.0 939.5,1683.4 941.0,1674.0 942.5,1667.9 944.0,1666.0 945.5,1680.2 947.0,1691.0 948.5,1678.0 950.0,1670.0 951.5,1674.4 953.0,1674.0 954.5,1669.8 956.0,1670.0 957.5,1664.5 959.0,1652.0 960.5,1651.9 962.0,1656.0 963.3,1657.7 964.7,1650.3 966.0,1653.0 967.0,1654.4 968.0,1648.0 969.0,1608.8 970.0,1574.0 971.0,1576.3 972.0,1576.0 973.0,1611.1 974.0,1654.0 975.5,1643.6 977.0,1628.0 978.5,1640.2 980.0,1656.0 981.3,1654.9 982.7,1648.8 984.0,1648.0 985.2,1649.1 986.5,1644.4 987.8,1646.3 989.0,1644.0 990.3,1640.3 991.7,1648.2 993.0,1645.0 994.2,1642.7 995.5,1646.0 996.8,1639.3 998.0,1642.0 999.3,1643.9 1000.7,1639.3 1002.0,1640.0 1003.3,1641.5 1004.7,1636.4 1006.0,1638.0 1007.5,1637.8 1009.0,1630.0 1010.3,1631.8 1011.7,1641.8 1013.0,1644.0 1014.5,1648.0 1016.0,1658.0 1017.3,1659.7 1018.7,1655.5 1020.0,1659.0 1021.3,1659.5 1022.7,1649.9 1024.0,1650.0 1025.3,1650.2 1026.7,1644.0 1028.0,1644.0 1029.3,1644.6 1030.7,1641.2 1032.0,1642.0 1033.2,1643.4 1034.5,1639.0 1035.8,1644.6 1037.0,1641.0 1038.5,1637.7 1040.0,1638.0 1041.3,1644.5 1042.7,1643.0 1044.0,1650.0 1045.5,1636.0 1047.0,1616.0 1048.5,1626.7 1050.0,1640.0 1051.5,1654.8 1053.0,1662.0 1054.5,1648.2 1056.0,1640.0 1057.5,1663.5 1059.0,1683.0 1060.0,1659.6 1061.0,1640.0 1062.5,1652.1 1064.0,1658.0 1065.5,1654.2 1067.0,1658.0 1068.0,1655.1 1069.0,1648.0 1070.5,1645.7 1072.0,1648.0 1073.5,1649.8 1075.0,1646.0 1076.5,1641.3 1078.0,1640.0 1079.3,1643.0 1080.7,1637.6 1082.0,1642.0"/></defs><g fill="none" stroke="#fd850d" stroke-linejoin="round" stroke-linecap="round"><use href="#p2o" stroke-opacity="0.3" stroke-width="4.80"/><use href="#p2o" stroke-width="3.2"/></g>
<rect x="252.7" y="1148.5" width="869.1" height="569.8" fill="none" stroke="#111" stroke-width="2"/>
<line x1="244" y1="1200.8" x2="252.7" y2="1200.8" stroke="#111" stroke-width="1.8"/>
<text x="234.6" y="1210.3" font-size="24" text-anchor="end" textLength="76.8" lengthAdjust="spacingAndGlyphs">20000</text>
<line x1="244" y1="1321.8" x2="252.7" y2="1321.8" stroke="#111" stroke-width="1.8"/>
<text x="234.6" y="1331.3" font-size="24" text-anchor="end" textLength="76.8" lengthAdjust="spacingAndGlyphs">19000</text>
<line x1="244" y1="1442.9" x2="252.7" y2="1442.9" stroke="#111" stroke-width="1.8"/>
<text x="234.6" y="1452.4" font-size="24" text-anchor="end" textLength="76.8" lengthAdjust="spacingAndGlyphs">18000</text>
<line x1="244" y1="1564.0" x2="252.7" y2="1564.0" stroke="#111" stroke-width="1.8"/>
<text x="234.6" y="1573.5" font-size="24" text-anchor="end" textLength="76.8" lengthAdjust="spacingAndGlyphs">17000</text>
<line x1="244" y1="1685.0" x2="252.7" y2="1685.0" stroke="#111" stroke-width="1.8"/>
<text x="234.6" y="1694.5" font-size="24" text-anchor="end" textLength="76.8" lengthAdjust="spacingAndGlyphs">16000</text>
<text transform="translate(142.7,1437.4) rotate(-90)" font-size="24.3" text-anchor="middle" textLength="92" lengthAdjust="spacingAndGlyphs">Price($)</text>
<line x1="291.1" y1="1718.3" x2="291.1" y2="1727" stroke="#111" stroke-width="1.8"/>
<text transform="translate(287.6,1752.0) rotate(-29.5)" font-size="24" text-anchor="end" textLength="256" lengthAdjust="spacingAndGlyphs">2022-12-03 00:00:00</text>
<line x1="339.2" y1="1718.3" x2="339.2" y2="1727" stroke="#111" stroke-width="1.8"/>
<text transform="translate(335.7,1752.0) rotate(-29.5)" font-size="24" text-anchor="end" textLength="256" lengthAdjust="spacingAndGlyphs">2022-12-04 06:00:00</text>
<line x1="387.2" y1="1718.3" x2="387.2" y2="1727" stroke="#111" stroke-width="1.8"/>
<text transform="translate(383.7,1752.0) rotate(-29.5)" font-size="24" text-anchor="end" textLength="256" lengthAdjust="spacingAndGlyphs">2022-12-05 12:00:00</text>
<line x1="435.3" y1="1718.3" x2="435.3" y2="1727" stroke="#111" stroke-width="1.8"/>
<text transform="translate(431.8,1752.0) rotate(-29.5)" font-size="24" text-anchor="end" textLength="256" lengthAdjust="spacingAndGlyphs">2022-12-06 18:00:00</text>
<line x1="483.3" y1="1718.3" x2="483.3" y2="1727" stroke="#111" stroke-width="1.8"/>
<text transform="translate(479.8,1752.0) rotate(-29.5)" font-size="24" text-anchor="end" textLength="256" lengthAdjust="spacingAndGlyphs">2022-12-08 00:00:00</text>
<line x1="531.4" y1="1718.3" x2="531.4" y2="1727" stroke="#111" stroke-width="1.8"/>
<text transform="translate(527.9,1752.0) rotate(-29.5)" font-size="24" text-anchor="end" textLength="256" lengthAdjust="spacingAndGlyphs">2022-12-09 06:00:00</text>
<line x1="579.5" y1="1718.3" x2="579.5" y2="1727" stroke="#111" stroke-width="1.8"/>
<text transform="translate(576.0,1752.0) rotate(-29.5)" font-size="24" text-anchor="end" textLength="256" lengthAdjust="spacingAndGlyphs">2022-12-10 12:00:00</text>
<line x1="627.5" y1="1718.3" x2="627.5" y2="1727" stroke="#111" stroke-width="1.8"/>
<text transform="translate(624.0,1752.0) rotate(-29.5)" font-size="24" text-anchor="end" textLength="256" lengthAdjust="spacingAndGlyphs">2022-12-11 18:00:00</text>
<line x1="675.6" y1="1718.3" x2="675.6" y2="1727" stroke="#111" stroke-width="1.8"/>
<text transform="translate(672.1,1752.0) rotate(-29.5)" font-size="24" text-anchor="end" textLength="256" lengthAdjust="spacingAndGlyphs">2022-12-13 00:00:00</text>
<line x1="723.6" y1="1718.3" x2="723.6" y2="1727" stroke="#111" stroke-width="1.8"/>
<text transform="translate(720.1,1752.0) rotate(-29.5)" font-size="24" text-anchor="end" textLength="256" lengthAdjust="spacingAndGlyphs">2022-12-14 06:00:00</text>
<line x1="771.7" y1="1718.3" x2="771.7" y2="1727" stroke="#111" stroke-width="1.8"/>
<text transform="translate(768.2,1752.0) rotate(-29.5)" font-size="24" text-anchor="end" textLength="256" lengthAdjust="spacingAndGlyphs">2022-12-15 12:00:00</text>
<line x1="819.8" y1="1718.3" x2="819.8" y2="1727" stroke="#111" stroke-width="1.8"/>
<text transform="translate(816.3,1752.0) rotate(-29.5)" font-size="24" text-anchor="end" textLength="256" lengthAdjust="spacingAndGlyphs">2022-12-16 18:00:00</text>
<line x1="867.8" y1="1718.3" x2="867.8" y2="1727" stroke="#111" stroke-width="1.8"/>
<text transform="translate(864.3,1752.0) rotate(-29.5)" font-size="24" text-anchor="end" textLength="256" lengthAdjust="spacingAndGlyphs">2022-12-18 00:00:00</text>
<line x1="915.9" y1="1718.3" x2="915.9" y2="1727" stroke="#111" stroke-width="1.8"/>
<text transform="translate(912.4,1752.0) rotate(-29.5)" font-size="24" text-anchor="end" textLength="256" lengthAdjust="spacingAndGlyphs">2022-12-19 06:00:00</text>
<line x1="963.9" y1="1718.3" x2="963.9" y2="1727" stroke="#111" stroke-width="1.8"/>
<text transform="translate(960.4,1752.0) rotate(-29.5)" font-size="24" text-anchor="end" textLength="256" lengthAdjust="spacingAndGlyphs">2022-12-20 12:00:00</text>
<line x1="1012.0" y1="1718.3" x2="1012.0" y2="1727" stroke="#111" stroke-width="1.8"/>
<text transform="translate(1008.5,1752.0) rotate(-29.5)" font-size="24" text-anchor="end" textLength="256" lengthAdjust="spacingAndGlyphs">2022-12-21 18:00:00</text>
<line x1="1060.1" y1="1718.3" x2="1060.1" y2="1727" stroke="#111" stroke-width="1.8"/>
<text transform="translate(1056.6,1752.0) rotate(-29.5)" font-size="24" text-anchor="end" textLength="256" lengthAdjust="spacingAndGlyphs">2022-12-23 00:00:00</text>
<text x="687" y="1912.8" font-size="24.3" text-anchor="middle" textLength="58" lengthAdjust="spacingAndGlyphs">Date</text>
<rect x="907.7" y="1161.5" width="200.3" height="78.5" rx="4" ry="4" fill="#fff" fill-opacity="0.8" stroke="#e0e0e0" stroke-width="1.3"/>
<line x1="916" y1="1180.6" x2="964.6" y2="1180.6" stroke="#1f7bc4" stroke-width="3.2" stroke-linecap="round"/>
<line x1="916" y1="1217.3" x2="964.6" y2="1217.3" stroke="#fd850d" stroke-width="3.2" stroke-linecap="round"/>
<text x="983.7" y="1189.4" font-size="24.5" textLength="52.7" lengthAdjust="spacingAndGlyphs">True</text>
<text x="984.6" y="1225" font-size="24.5" textLength="112.5" lengthAdjust="spacingAndGlyphs">Predicted</text>
<text class="cap" x="326.2" y="2005.5" font-size="33.7" textLength="705" lengthAdjust="spacingAndGlyphs"><tspan font-weight="bold">b.</tspan> Results of CNN-PTEN model tested on test set 2.</text>
</svg></body></html>
